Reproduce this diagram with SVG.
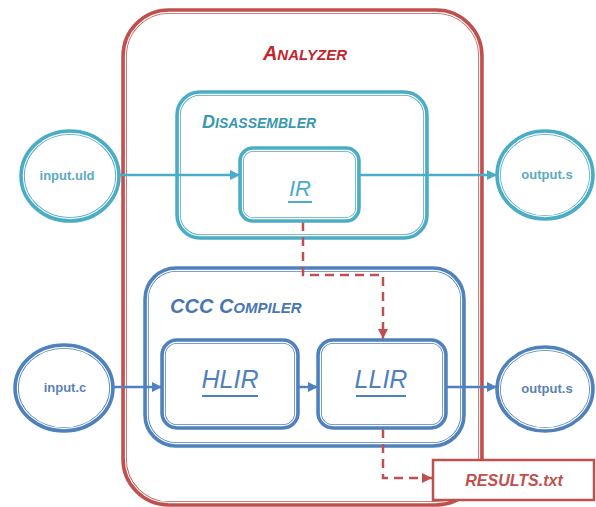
<svg xmlns="http://www.w3.org/2000/svg" width="596" height="507" viewBox="0 0 596 507">
<defs>
<style>
.t{fill:none;stroke:#4bacc6;stroke-width:5.5}
.b{fill:none;stroke:#4f81bd;stroke-width:5.5}
.r{fill:none;stroke:#c0504d;stroke-width:5.5}
.w{fill:none;stroke:#fff;stroke-width:1.1}
.lbl{font-family:"Liberation Sans",Arial,sans-serif;font-weight:bold;font-size:13px;text-anchor:middle}
.ttl{font-family:"Liberation Sans",Arial,sans-serif;font-weight:bold;font-style:italic}
.big{font-family:"Liberation Sans",Arial,sans-serif;font-style:italic;text-anchor:middle}
.ct{stroke:#4bacc6;stroke-width:2.5;fill:none}
.cb{stroke:#4f81bd;stroke-width:2.5;fill:none}
.cr{stroke:#c0504d;stroke-width:2.5;fill:none;stroke-dasharray:9 6}
</style>
<marker id="mt" markerUnits="userSpaceOnUse" markerWidth="11" markerHeight="11" refX="10" refY="5.5" orient="auto"><path d="M0,0.5 L10,5.5 L0,10.5 z" fill="#4bacc6"/></marker>
<marker id="mb" markerUnits="userSpaceOnUse" markerWidth="11" markerHeight="11" refX="10" refY="5.5" orient="auto"><path d="M0,0.5 L10,5.5 L0,10.5 z" fill="#4f81bd"/></marker>
<marker id="mr" markerUnits="userSpaceOnUse" markerWidth="11" markerHeight="11" refX="10" refY="5.5" orient="auto"><path d="M0,0.5 L10,5.5 L0,10.5 z" fill="#c0504d"/></marker>
</defs>
<rect width="596" height="507" fill="#fff"/>

<g id="analyzer">
<rect x="124" y="11" width="357" height="493" rx="45" class="r"/>
<rect x="125.4" y="12.4" width="354.2" height="490.2" rx="43.6" class="w"/>
<text x="305" y="60" class="ttl" fill="#c0272d" text-anchor="middle"><tspan font-size="20">A</tspan><tspan font-size="15">NALYZER</tspan></text>
</g>

<g id="disassembler">
<rect x="178" y="93" width="248" height="144" rx="22" class="t"/>
<rect x="179.4" y="94.4" width="245.2" height="141.2" rx="20.6" class="w"/>
<text x="202" y="128" class="ttl" fill="#3a98b0"><tspan font-size="18">D</tspan><tspan font-size="14">ISASSEMBLER</tspan></text>
</g>

<g id="ccc-compiler">
<rect x="146" y="269" width="317" height="176" rx="30" class="b"/>
<rect x="147.4" y="270.4" width="314.2" height="173.2" rx="28.6" class="w"/>
<text x="170" y="313" class="ttl" fill="#4a76b4"><tspan font-size="20">CCC C</tspan><tspan font-size="15">OMPILER</tspan></text>
</g>

<g id="connectors">
<line x1="118" y1="175" x2="240" y2="175" class="ct" marker-end="url(#mt)"/>
<line x1="358" y1="175" x2="497" y2="175" class="ct" marker-end="url(#mt)"/>
<line x1="113" y1="387" x2="162" y2="387" class="cb" marker-end="url(#mb)"/>
<line x1="297" y1="387" x2="318" y2="387" class="cb" marker-end="url(#mb)"/>
<line x1="445" y1="387" x2="497" y2="387" class="cb" marker-end="url(#mb)"/>
<path d="M303 222 V275 H383 V339" class="cr" marker-end="url(#mr)"/>
<path d="M383 429 V478 H432" class="cr" marker-end="url(#mr)"/>
</g>

<g id="ir">
<rect x="241" y="149" width="117" height="71" rx="12" class="t" style="fill:#fff"/>
<rect x="242.4" y="150.4" width="114.2" height="68.2" rx="10.6" class="w"/>
<text x="300" y="196" class="big" font-size="22" fill="#4bacc6">IR</text>
<line x1="288" y1="202" x2="312" y2="202" stroke="#4bacc6" stroke-width="2"/>
</g>

<g id="hlir">
<rect x="163" y="341" width="134" height="86" rx="14" class="b" style="fill:#fff"/>
<rect x="164.4" y="342.4" width="131.2" height="83.2" rx="12.6" class="w"/>
<text x="230" y="388" class="big" font-size="25" fill="#4f81bd">HLIR</text>
<line x1="202" y1="396" x2="258" y2="396" stroke="#4f81bd" stroke-width="2"/>
</g>

<g id="llir">
<rect x="319" y="341" width="126" height="86" rx="14" class="b" style="fill:#fff"/>
<rect x="320.4" y="342.4" width="123.2" height="83.2" rx="12.6" class="w"/>
<text x="381" y="388" class="big" font-size="25" fill="#4f81bd">LLIR</text>
<line x1="356" y1="396" x2="406" y2="396" stroke="#4f81bd" stroke-width="2"/>
</g>

<g id="input-uld">
<ellipse cx="70" cy="176" rx="48" ry="44" class="t" style="fill:#fff"/>
<ellipse cx="70" cy="176" rx="46.6" ry="42.6" class="w"/>
<text x="67" y="180" class="lbl" fill="#5aaac3">input.uld</text>
</g>

<g id="output-s-top">
<ellipse cx="545" cy="175" rx="47" ry="43" class="t" style="fill:#fff"/>
<ellipse cx="545" cy="175" rx="45.6" ry="41.6" class="w"/>
<text x="547" y="179" class="lbl" fill="#5aaac3">output.s</text>
</g>

<g id="input-c">
<ellipse cx="64" cy="388" rx="48" ry="42" class="b" style="fill:#fff"/>
<ellipse cx="64" cy="388" rx="46.6" ry="40.6" class="w"/>
<text x="65" y="392" class="lbl" fill="#5a82b8">input.c</text>
</g>

<g id="output-s-bottom">
<ellipse cx="545" cy="389" rx="47" ry="41" class="b" style="fill:#fff"/>
<ellipse cx="545" cy="389" rx="45.6" ry="39.6" class="w"/>
<text x="547" y="393" class="lbl" fill="#5a82b8">output.s</text>
</g>

<g id="results">
<rect x="433" y="460" width="161" height="40" fill="#fff" stroke="#c0504d" stroke-width="2.5"/>
<text x="514" y="486" class="ttl" font-size="16" fill="#c0504d" text-anchor="middle">RESULTS.txt</text>
</g>
</svg>
